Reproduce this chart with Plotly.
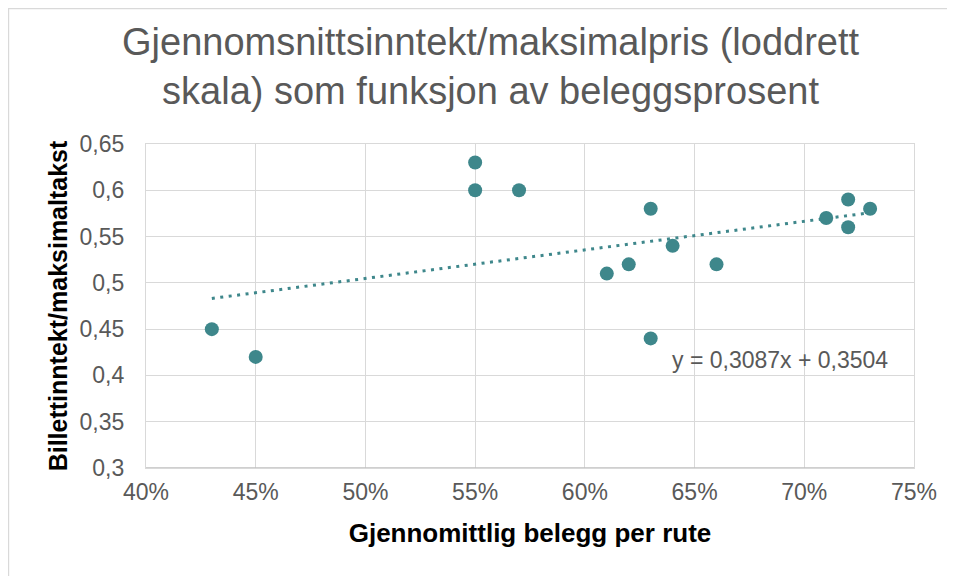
import plotly.graph_objects as go

# Data
belegg = [0.43, 0.45, 0.55, 0.55, 0.57, 0.61, 0.62, 0.63, 0.63, 0.64, 0.66, 0.71, 0.72, 0.72, 0.73]
inntekt = [0.45, 0.42, 0.63, 0.60, 0.60, 0.51, 0.52, 0.58, 0.44, 0.54, 0.52, 0.57, 0.59, 0.56, 0.58]

trend_slope = 0.3087
trend_intercept = 0.3504
trend_x = [0.43, 0.73]

x_tickvals = [0.40, 0.45, 0.50, 0.55, 0.60, 0.65, 0.70, 0.75]
x_ticktext = ["40%", "45%", "50%", "55%", "60%", "65%", "70%", "75%"]
y_tickvals = [0.30, 0.35, 0.40, 0.45, 0.50, 0.55, 0.60, 0.65]
y_ticktext = ["0,3", "0,35", "0,4", "0,45", "0,5", "0,55", "0,6", "0,65"]

title_text = "Gjennomsnittsinntekt/maksimalpris (loddrett<br>skala) som funksjon av beleggsprosent"
x_title = "Gjennomittlig belegg per rute"
y_title = "Billettinntekt/maksimaltakst"
eq_text = "y = 0,3087x + 0,3504"

COLOR = "#3E878B"
GRID = "#D9D9D9"
TEXT = "#595959"
FONT = "Liberation Sans, Arial, sans-serif"

trend_y = [trend_slope * x + trend_intercept for x in trend_x]

fig = go.Figure()
fig.add_trace(go.Scatter(
    x=trend_x, y=trend_y, mode="lines",
    line=dict(color=COLOR, width=3, dash="3px,5.5px"),
    hoverinfo="skip", showlegend=False,
))
fig.add_trace(go.Scatter(
    x=belegg, y=inntekt, mode="markers",
    marker=dict(color=COLOR, size=14),
    showlegend=False,
))

fig.add_annotation(
    x=0.689, y=0.4167, xref="x", yref="y", text=eq_text, showarrow=False,
    font=dict(family=FONT, size=23, color=TEXT), xanchor="center", yanchor="middle",
)

# chart title
fig.add_annotation(
    x=0.448, y=1.2377, xref="paper", yref="paper", text=title_text, showarrow=False,
    font=dict(family=FONT, size=38, color=TEXT), xanchor="center", yanchor="middle",
    align="center",
)

# outer chart border
fig.add_shape(type="rect", xref="paper", yref="paper",
              x0=-0.179, x1=1.048, y0=-0.45, y1=1.418,
              line=dict(color=GRID, width=1.3), layer="below")
# bottom axis line
fig.add_shape(type="line", xref="paper", yref="y", x0=0, x1=1, y0=0.30, y1=0.30,
              line=dict(color="#BFBFBF", width=1.5))

fig.update_layout(
    width=947, height=568,
    margin=dict(l=138, r=41, t=136, b=108),
    paper_bgcolor="white", plot_bgcolor="white",
    font=dict(family=FONT, color=TEXT),
    xaxis=dict(
        range=[0.40, 0.75], tickvals=x_tickvals, ticktext=x_ticktext,
        showgrid=True, gridcolor=GRID, gridwidth=1.3,
        showline=True, linecolor=GRID, linewidth=1.3, mirror=True,
        zeroline=False, ticks="", ticklabelstandoff=3,
        tickfont=dict(size=23, color=TEXT, family=FONT),
        title=dict(text="<b>" + x_title + "</b>", font=dict(size=26, color="black", family=FONT), standoff=20),
    ),
    yaxis=dict(
        range=[0.30, 0.65], tickvals=y_tickvals, ticktext=y_ticktext,
        showgrid=True, gridcolor=GRID, gridwidth=1.3,
        showline=True, linecolor=GRID, linewidth=1.3, mirror=True,
        zeroline=False, ticks="", ticklabelstandoff=16,
        tickfont=dict(size=23, color=TEXT, family=FONT),
        title=dict(text="<b>" + y_title + "</b>", font=dict(size=25, color="black", family=FONT), standoff=4),
    ),
)

fig.write_html("out.html")
